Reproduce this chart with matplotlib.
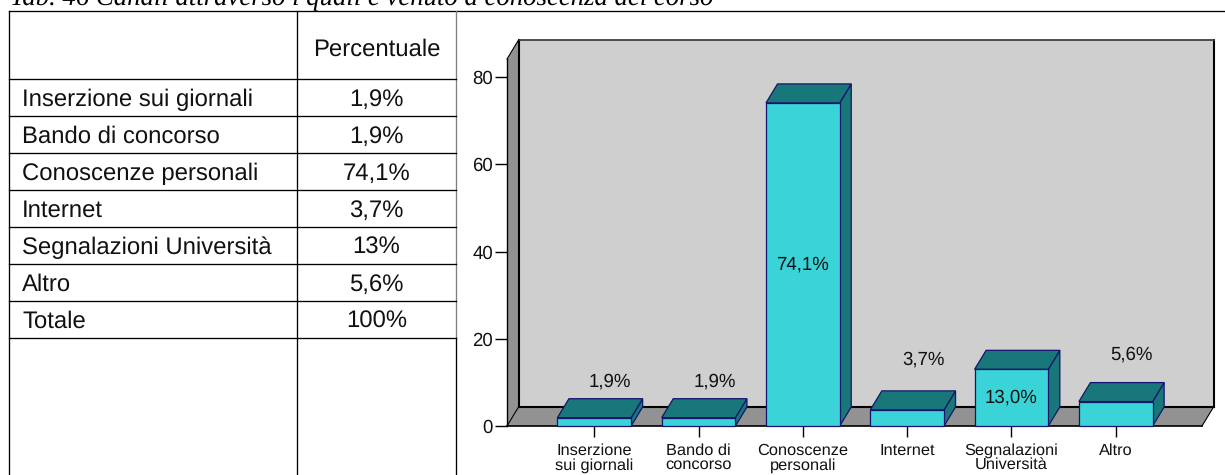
import matplotlib
matplotlib.use("Agg")
import matplotlib.pyplot as plt
from matplotlib.patches import Polygon

plt.rcParams['font.family'] = ['Liberation Sans', 'DejaVu Sans']
plt.rcParams['text.hinting'] = 'no_hinting'

# dati
categorie = ["Inserzione\nsui giornali", "Bando di\nconcorso", "Conoscenze\npersonali",
             "Internet", "Segnalazioni\nUniversità", "Altro"]
valori = [1.9, 1.9, 74.1, 3.7, 13.0, 5.6]
etichette = ["1,9%", "1,9%", "74,1%", "3,7%", "13,0%", "5,6%"]
y_ticks = [0, 20, 40, 60, 80]

righe = ["Inserzione sui giornali", "Bando di concorso", "Conoscenze personali",
         "Internet", "Segnalazioni Università", "Altro", "Totale"]
percentuali = ["1,9%", "1,9%", "74,1%", "3,7%", "13%", "5,6%", "100%"]
titolo = "Tab. 46 Canali attraverso i quali è venuto a conoscenza del corso"

W, H = 1225, 475
fig = plt.figure(figsize=(W / 100, H / 100), dpi=100)

# --- tabella e cornice, in pixel ---
bg = fig.add_axes([0, 0, 1, 1])
bg.set_xlim(0, W)
bg.set_ylim(H, 0)
bg.axis('off')

LW = 0.95
bg.text(10, 5, titolo, family='Liberation Serif', style='italic', fontsize=19.27,
        va='baseline', ha='left', color='black')
bg.plot([9, W], [11, 11], color='black', lw=LW)
bg.plot([9, 9], [11, H], color='black', lw=LW)
bg.plot([297, 297], [11, H], color='black', lw=LW)
bg.plot([456, 456], [11, 338], color='#808080', lw=LW)
bg.plot([456, 456], [338, H], color='black', lw=LW)

linee = [79, 116, 153, 190, 227, 264, 301, 338]
for yy in linee:
    bg.plot([9, 456], [yy, yy], color='black', lw=LW)

FS = 17.2
bg.text(376.5, 50, "Percentuale", fontsize=FS, ha='center', va='center', color='#111111')
for i, (r, p) in enumerate(zip(righe, percentuali)):
    yc = (linee[i] + linee[i + 1]) / 2 + 2
    bg.text(22, yc, r, fontsize=FS, ha='left', va='center', color='#111111')
    bg.text(376.5, yc, p, fontsize=FS, ha='center', va='center', color='#111111')

# --- grafico a barre finto 3D ---
X0, X1, Y0, Y1 = 507, 1202, 426, 59
ax = fig.add_axes([X0 / W, 1 - Y0 / H, (X1 - X0) / W, (Y0 - Y1) / H])
ax.patch.set_visible(False)
passo = 104.0
x_lim = (-87 / passo, 5 + 86 / passo)
y_max = (Y0 - Y1) / 4.36
ax.set_xlim(*x_lim)
ax.set_ylim(0, y_max)
dx = 11.5 / passo      # profondita in unita dati
dy = 19 / 4.36
larg = 73.5 / passo

muro = '#CFCFCF'
lato = '#929292'
ax.add_patch(Polygon([(x_lim[0] + dx, dy), (x_lim[1] + dx, dy), (x_lim[1] + dx, y_max + dy),
                      (x_lim[0] + dx, y_max + dy)], fc=muro, ec='none', clip_on=False))
ax.add_patch(Polygon([(x_lim[0], 0), (x_lim[0] + dx, dy), (x_lim[0] + dx, y_max + dy),
                      (x_lim[0], y_max)], fc=lato, ec='none', clip_on=False))
ax.add_patch(Polygon([(x_lim[0], 0), (x_lim[1], 0), (x_lim[1] + dx, dy), (x_lim[0] + dx, dy)],
                     fc=lato, ec='none', clip_on=False))
# bordi del muro
ax.plot([x_lim[0] + dx, x_lim[0] + dx], [dy, y_max + dy], color='black', lw=1.5, clip_on=False)
ax.plot([x_lim[0] + dx, x_lim[1] + dx], [dy, dy], color='black', lw=1.5, clip_on=False)
ax.plot([x_lim[1] + dx, x_lim[1] + dx], [dy, y_max + dy], color='black', lw=1.5, clip_on=False)
ax.plot([x_lim[0] + dx, x_lim[1] + dx], [y_max + dy, y_max + dy], color='#404040', lw=1.3, clip_on=False)
ax.plot([x_lim[0], x_lim[0] + dx], [0, dy], color='black', lw=0.8, clip_on=False)
ax.plot([x_lim[0], x_lim[0] + dx], [y_max, y_max + dy], color='black', lw=0.8, clip_on=False)
ax.plot([x_lim[1], x_lim[1] + dx], [0, dy], color='black', lw=0.8, clip_on=False)
ax.plot(x_lim, [0, 0], color='black', lw=1.2, clip_on=False)
ax.plot([x_lim[0], x_lim[0]], [0, y_max], color='black', lw=1.0, clip_on=False)

chiaro = '#3AD3D8'
scuro = '#187779'
bordo = '#14146E'
for i, v in enumerate(valori):
    l, r = i - larg / 2, i + larg / 2
    ax.add_patch(Polygon([(r, 0), (r + dx, dy), (r + dx, v + dy), (r, v)],
                         fc=scuro, ec=bordo, lw=0.9, clip_on=False, zorder=3))
    ax.add_patch(Polygon([(l, v), (r, v), (r + dx, v + dy), (l + dx, v + dy)],
                         fc=scuro, ec=bordo, lw=0.9, clip_on=False, zorder=3))
    ax.add_patch(Polygon([(l, 0), (r, 0), (r, v), (l, v)],
                         fc=chiaro, ec=bordo, lw=0.9, clip_on=False, zorder=4))

# etichette: dentro la barra se alta, altrimenti sopra
sopra = {0: 8.2, 1: 8.2, 3: 11.5, 5: 10.7}
for i, (v, e) in enumerate(zip(valori, etichette)):
    if i in sopra:
        ax.text(i + 16 / passo, v + sopra[i], e, fontsize=13.4, ha='center', va='center',
                color='#111111', zorder=5)
    else:
        ax.text(i, v / 2, e, fontsize=13.4, ha='center', va='center', color='#111111', zorder=5)

ax.set_xticks(range(len(categorie)))
ax.set_xticklabels(categorie, fontsize=11.8, linespacing=0.95, color='#111111')
ax.set_yticks(y_ticks)
ax.tick_params(axis='y', length=8.6, width=1.0, labelsize=13.4, pad=1.5, labelcolor='#111111')
ax.tick_params(axis='x', length=8, width=1.0, pad=4.5)
for s in ax.spines.values():
    s.set_visible(False)

fig.savefig("out.png", dpi=100)
